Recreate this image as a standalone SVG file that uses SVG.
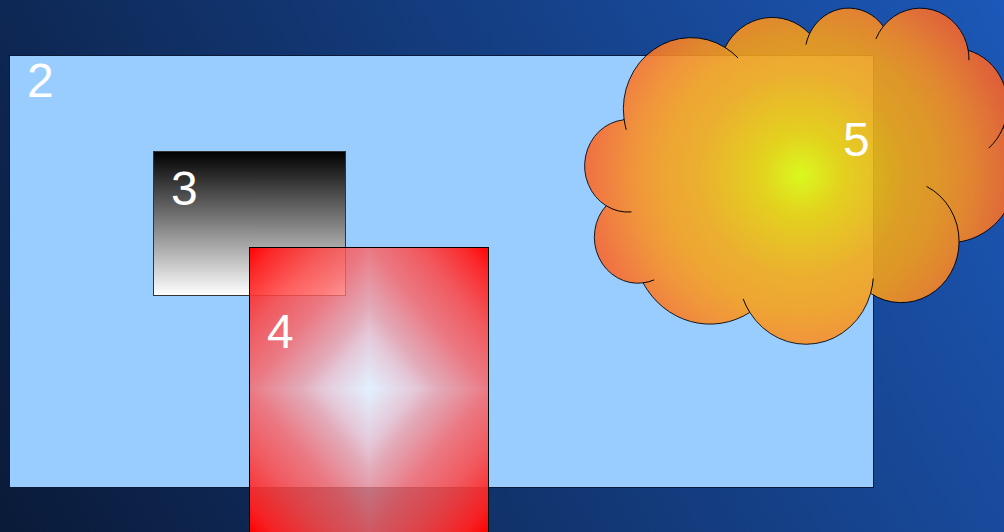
<svg xmlns="http://www.w3.org/2000/svg" width="1004" height="532" viewBox="0 0 1004 532">
  <style>
    .lbl { font-family: "Liberation Sans", Arial, sans-serif; font-size: 48px; fill: #ffffff; }
    .edge { fill: none; stroke: #000000; stroke-width: 1; }
    .cl { stroke: #000000; stroke-width: 1; vector-effect: non-scaling-stroke; }
  </style>
  <defs>
    <linearGradient id="bg" gradientUnits="userSpaceOnUse" x1="0" y1="532" x2="1004" y2="0">
      <stop offset="0" stop-color="#0a1a38"/>
      <stop offset="1" stop-color="#1c58b8"/>
    </linearGradient>
    <linearGradient id="g3" x1="0" y1="0" x2="0" y2="1">
      <stop offset="0" stop-color="#000000"/>
      <stop offset="1" stop-color="#ffffff"/>
    </linearGradient>
    <linearGradient id="g4">
      <stop offset="0" stop-color="#ffffff" stop-opacity="0.72"/>
      <stop offset="0.2" stop-color="#ffc6ca" stop-opacity="0.74"/>
      <stop offset="0.3" stop-color="#ff9a9a" stop-opacity="0.72"/>
      <stop offset="0.5" stop-color="#ff6464" stop-opacity="0.8"/>
      <stop offset="0.7" stop-color="#ff4644" stop-opacity="0.86"/>
      <stop offset="0.9" stop-color="#ff2020" stop-opacity="0.96"/>
      <stop offset="1" stop-color="#ff0000" stop-opacity="1"/>
    </linearGradient>
    <linearGradient id="g4tl" href="#g4" x1="1" y1="1" x2="0" y2="0"/>
    <linearGradient id="g4tr" href="#g4" x1="0" y1="1" x2="1" y2="0"/>
    <linearGradient id="g4bl" href="#g4" x1="1" y1="0" x2="0" y2="1"/>
    <linearGradient id="g4br" href="#g4" x1="0" y1="0" x2="1" y2="1"/>
    <radialGradient id="g5" gradientUnits="userSpaceOnUse" cx="0" cy="0" r="1" gradientTransform="translate(21600 21600) scale(27400 35229)">
      <stop offset="0" stop-color="#e4ff00"/>
      <stop offset="0.15" stop-color="#eed200"/>
      <stop offset="0.37" stop-color="#f7ac14"/>
      <stop offset="0.5" stop-color="#faa018"/>
      <stop offset="0.62" stop-color="#fd8c22"/>
      <stop offset="0.72" stop-color="#fc7428"/>
      <stop offset="0.8" stop-color="#fb6228"/>
      <stop offset="1" stop-color="#f04c28"/>
    </radialGradient>
  </defs>

  <rect x="0" y="0" width="1004" height="532" fill="url(#bg)"/>

  <g id="node-2">
    <rect x="9.5" y="55.5" width="864" height="432" fill="#99ccff" stroke="#0a1a38" stroke-width="1"/>
    <text class="lbl" x="27" y="97">2</text>
  </g>

  <g id="node-3">
    <rect x="153.5" y="151.5" width="192" height="144" fill="url(#g3)" stroke="#333333" stroke-width="1"/>
    <text class="lbl" x="171" y="205">3</text>
  </g>

  <g id="node-4">
    <rect x="249" y="247" width="120" height="142" fill="url(#g4tl)"/>
    <rect x="369" y="247" width="120" height="142" fill="url(#g4tr)"/>
    <rect x="249" y="389" width="120" height="143" fill="url(#g4bl)"/>
    <rect x="369" y="389" width="120" height="143" fill="url(#g4br)"/>
    <rect class="edge" x="249.5" y="247.5" width="239" height="292"/>
    <text class="lbl" x="267" y="348">4</text>
  </g>

  <g id="node-5">
    <g transform="translate(585,7) scale(0.01,0.0077778)" opacity="0.88">
      <path class="cl" fill="url(#g5)" d="M 3900 14370 A 6753 9190 0 0 1 14005 5202 A 5333 7267 0 0 1 22458 3433 A 4365 5945 0 0 1 29834 2484 A 4857 6595 0 0 1 38319 5578 A 5333 7273 0 0 1 41820 15462 A 6775 9220 0 0 1 37406 30206 A 5785 7867 0 0 1 28558 36816 A 6752 9215 0 0 1 16481 39265 A 7720 10543 0 0 1 5805 35468 A 4360 5918 0 0 1 2113 25548 A 4345 5945 0 0 1 3863 14506 Z"/>
    </g>
    <g transform="translate(585,7) scale(0.01,0.0077778)">
      <path class="cl" fill="none" d="M 4646 26346 A 4345 5945 0 0 1 2113 25548 M 6914 35087 A 4360 5918 0 0 1 5805 35468 M 16481 39265 A 6752 9215 0 0 1 15814 37525 M 28824 34907 A 6752 9215 0 0 1 28558 36816 M 34154 23070 A 5785 7867 0 0 1 37406 30206 M 41820 15462 A 5333 7273 0 0 1 40372 18137 M 38319 5578 A 4857 6595 0 0 1 38396 6842 M 29092 4095 A 4857 6595 0 0 1 29834 2484 M 22098 4825 A 4365 5945 0 0 1 22458 3433 M 14005 5202 A 6753 9190 0 0 1 15307 6553 M 4127 15789 A 6753 9190 0 0 1 3900 14370"/>
    </g>
    <text class="lbl" x="843" y="156">5</text>
  </g>

  <g id="connectors"/>
</svg>
